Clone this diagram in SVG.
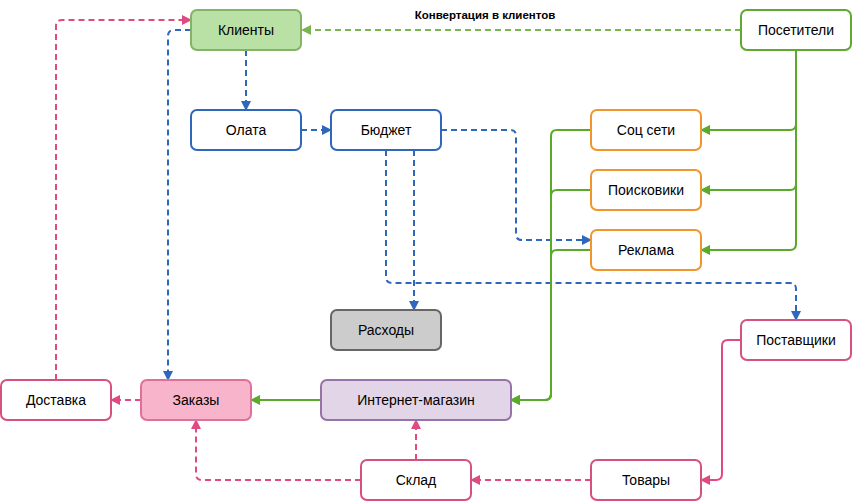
<svg xmlns="http://www.w3.org/2000/svg" width="852" height="501" viewBox="0 0 852 501">
<defs>
<style>
.n{stroke-width:2}
.t{font-family:"Liberation Sans",Arial,sans-serif;font-size:14px;fill:#000;text-anchor:middle;dominant-baseline:central}
.lbl{font-family:"Liberation Sans",Arial,sans-serif;font-size:11.5px;font-weight:bold;fill:#000;text-anchor:middle;dominant-baseline:central}
.c{fill:none;stroke-width:2}
.d{stroke-dasharray:6 4}
.blue{stroke:#2f68bb}
.green{stroke:#5aaa2a}
.lgreen{stroke:#7ab54f}
.pink{stroke:#e04a82}
</style>
<marker id="ab" viewBox="0 0 10 10" refX="9" refY="5" markerWidth="10" markerHeight="10" markerUnits="userSpaceOnUse" orient="auto"><path d="M0,0 L10,5 L0,10 z" fill="#2f68bb"/></marker>
<marker id="ag" viewBox="0 0 10 10" refX="9" refY="5" markerWidth="10" markerHeight="10" markerUnits="userSpaceOnUse" orient="auto"><path d="M0,0 L10,5 L0,10 z" fill="#5aaa2a"/></marker>
<marker id="alg" viewBox="0 0 10 10" refX="9" refY="5" markerWidth="10" markerHeight="10" markerUnits="userSpaceOnUse" orient="auto"><path d="M0,0 L10,5 L0,10 z" fill="#7ab54f"/></marker>
<marker id="ap" viewBox="0 0 10 10" refX="9" refY="5" markerWidth="10" markerHeight="10" markerUnits="userSpaceOnUse" orient="auto"><path d="M0,0 L10,5 L0,10 z" fill="#e04a82"/></marker>
</defs>
<rect width="852" height="501" fill="#ffffff"/>
<g id="connectors">
<path class="c d lgreen" d="M741,30 H302" marker-end="url(#alg)"/>
<path class="c d blue" d="M246,50 V110" marker-end="url(#ab)"/>
<path class="c d blue" d="M301,130 H331" marker-end="url(#ab)"/>
<path class="c d blue" d="M441,130 H510 Q516,130 516,136 V234 Q516,240 522,240 H591" marker-end="url(#ab)"/>
<path class="c d blue" d="M414,150 V310" marker-end="url(#ab)"/>
<path class="c d blue" d="M386,150 V277 Q386,283 392,283 H790 Q796,283 796,289 V320" marker-end="url(#ab)"/>
<path class="c d blue" d="M191,30 H174 Q168,30 168,36 V380" marker-end="url(#ab)"/>
<path class="c green" d="M796,50 V124 Q796,130 790,130 H701" marker-end="url(#ag)"/>
<path class="c green" d="M796,50 V184 Q796,190 790,190 H701" marker-end="url(#ag)"/>
<path class="c green" d="M796,50 V244 Q796,250 790,250 H701" marker-end="url(#ag)"/>
<path class="c green" d="M591,130 H557 Q551,130 551,136 V394 Q551,400 545,400 H511" marker-end="url(#ag)"/>
<path class="c green" d="M591,190 H557 Q551,190 551,196 V394 Q551,400 545,400 H511" marker-end="url(#ag)"/>
<path class="c green" d="M591,250 H557 Q551,250 551,256 V394 Q551,400 545,400 H511" marker-end="url(#ag)"/>
<path class="c green" d="M321,400 H251" marker-end="url(#ag)"/>
<path class="c d pink" d="M141,400 H111" marker-end="url(#ap)"/>
<path class="c d pink" d="M56,380 V26 Q56,20 62,20 H191" marker-end="url(#ap)"/>
<path class="c d pink" d="M361,480 H202 Q196,480 196,474 V420" marker-end="url(#ap)"/>
<path class="c d pink" d="M416,460 V420" marker-end="url(#ap)"/>
<path class="c d pink" d="M591,480 H471" marker-end="url(#ap)"/>
<path class="c pink" d="M741,340 H728 Q722,340 722,346 V474 Q722,480 716,480 H701" marker-end="url(#ap)"/>
<text class="lbl" x="485" y="15">Конвертация в клиентов</text>
</g>
<g id="klienty"><rect class="n" x="191" y="10" width="110" height="40" rx="6" fill="#b9e0a5" stroke="#82b366"/><text class="t" x="246" y="30">Клиенты</text></g>
<g id="posetiteli"><rect class="n" x="741" y="10" width="110" height="40" rx="6" fill="#fff" stroke="#60a830"/><text class="t" x="796" y="30">Посетители</text></g>
<g id="olata"><rect class="n" x="191" y="110" width="110" height="40" rx="6" fill="#fff" stroke="#2f68bb"/><text class="t" x="246" y="130">Олата</text></g>
<g id="byudzhet"><rect class="n" x="331" y="110" width="110" height="40" rx="6" fill="#fff" stroke="#2f68bb"/><text class="t" x="386" y="130">Бюджет</text></g>
<g id="socseti"><rect class="n" x="591" y="110" width="110" height="40" rx="6" fill="#fff" stroke="#f0962d"/><text class="t" x="646" y="130">Соц сети</text></g>
<g id="poiskoviki"><rect class="n" x="591" y="170" width="110" height="40" rx="6" fill="#fff" stroke="#f0962d"/><text class="t" x="646" y="190">Поисковики</text></g>
<g id="reklama"><rect class="n" x="591" y="230" width="110" height="40" rx="6" fill="#fff" stroke="#f0962d"/><text class="t" x="646" y="250">Реклама</text></g>
<g id="raskhody"><rect class="n" x="331" y="310" width="110" height="40" rx="6" fill="#cccccc" stroke="#666666"/><text class="t" x="386" y="330">Расходы</text></g>
<g id="postavshchiki"><rect class="n" x="741" y="320" width="110" height="40" rx="6" fill="#fff" stroke="#d6517f"/><text class="t" x="796" y="340">Поставщики</text></g>
<g id="dostavka"><rect class="n" x="1" y="380" width="110" height="40" rx="6" fill="#fff" stroke="#d6517f"/><text class="t" x="56" y="400">Доставка</text></g>
<g id="zakazy"><rect class="n" x="141" y="380" width="110" height="40" rx="6" fill="#f8b4ca" stroke="#e0709a"/><text class="t" x="196" y="400">Заказы</text></g>
<g id="internet-magazin"><rect class="n" x="321" y="380" width="190" height="40" rx="6" fill="#e1d5e7" stroke="#9673a6"/><text class="t" x="416" y="400">Интернет-магазин</text></g>
<g id="sklad"><rect class="n" x="361" y="460" width="110" height="40" rx="6" fill="#fff" stroke="#d6517f"/><text class="t" x="416" y="480">Склад</text></g>
<g id="tovary"><rect class="n" x="591" y="460" width="110" height="40" rx="6" fill="#fff" stroke="#d6517f"/><text class="t" x="646" y="480">Товары</text></g>
</svg>
